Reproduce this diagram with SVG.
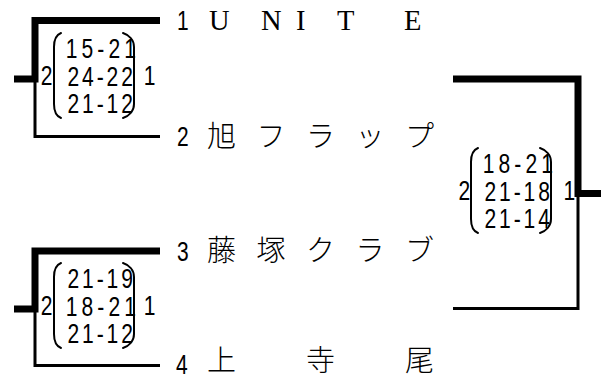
<svg xmlns="http://www.w3.org/2000/svg" width="601" height="379" viewBox="0 0 601 379">
<style>
.thick{stroke:#000;stroke-width:7;fill:none}
.thin{stroke:#000;stroke-width:3;fill:none}
.paren{stroke:#000;stroke-width:2;fill:none;stroke-linecap:round}
.num{font-family:"Liberation Sans",Arial,sans-serif;font-size:28px;fill:#000}
.score{font-family:"Liberation Sans",Arial,sans-serif;font-size:27px;fill:#000}
.en{font-family:"Liberation Serif","Times New Roman",serif;font-size:28.5px;fill:#000}
.jp{font-family:"Noto Sans CJK JP",sans-serif;font-size:29px;font-weight:300;fill:#000}
</style>
<rect width="601" height="379" fill="#fff"/>
<g id="connectors">
<path class="thick" d="M160,20.5 H35 V82.5 M14,79 H38.5"/>
<path class="thin" d="M35,82 V136.5 H160"/>
<path class="thick" d="M160,251 H35 V312.5 M14,309 H38.5"/>
<path class="thin" d="M35,312 V365.5 H160"/>
<path class="thick" d="M453,79 H578 V197 M574.5,193.5 H601"/>
<path class="thin" d="M578,196 V308.5 H453"/>
</g>
<g id="team1">
<text class="num" transform="translate(177,29.5) scale(.75,1)">1</text>
<text class="en" x="209 261 296 337 404" y="29.5">UNITE</text>
</g>
<g id="team2">
<text class="num" transform="translate(177,146) scale(.75,1)">2</text>
<text class="jp" x="207 256.5 306 355.5 405" y="146.5">旭フラップ</text>
</g>
<g id="team3">
<text class="num" transform="translate(177,260.5) scale(.75,1)">3</text>
<text class="jp" x="207 256.5 306 355.5 405" y="261">藤塚クラブ</text>
</g>
<g id="team4">
<text class="num" transform="translate(176,373.5) scale(.75,1)">4</text>
<text class="jp" x="207 306 405" y="370.5">上寺尾</text>
</g>
<g id="match1">
<text class="score" transform="translate(40.8,85) scale(.78,1)">2</text>
<path class="paren" d="M61,33 C56,35 54,40 54,47 V104 C54,111 56,116 61,118"/>
<text class="score" transform="translate(65.7,58) scale(.78,1)" textLength="90" lengthAdjust="spacing">15-21</text>
<text class="score" transform="translate(67.4,85.5) scale(.78,1)" textLength="84" lengthAdjust="spacing">24-22</text>
<text class="score" transform="translate(67.4,113) scale(.78,1)" textLength="84" lengthAdjust="spacing">21-12</text>
<path class="paren" d="M123,33 C129,35 134,40 134,47 V104 C134,111 129,116 123,118"/>
<text class="score" transform="translate(143.7,85) scale(.78,1)">1</text>
</g>
<g id="match2" transform="translate(0,230)">
<text class="score" transform="translate(40.8,85) scale(.78,1)">2</text>
<path class="paren" d="M61,33 C56,35 54,40 54,47 V104 C54,111 56,116 61,118"/>
<text class="score" transform="translate(67.4,58) scale(.78,1)" textLength="84" lengthAdjust="spacing">21-19</text>
<text class="score" transform="translate(65.7,85.5) scale(.78,1)" textLength="90" lengthAdjust="spacing">18-21</text>
<text class="score" transform="translate(67.4,113) scale(.78,1)" textLength="84" lengthAdjust="spacing">21-12</text>
<path class="paren" d="M123,33 C129,35 134,40 134,47 V104 C134,111 129,116 123,118"/>
<text class="score" transform="translate(143.7,85) scale(.78,1)">1</text>
</g>
<g id="final" transform="translate(417,115)">
<text class="score" transform="translate(41.5,85) scale(.78,1)">2</text>
<path class="paren" d="M61,33 C56,35 54,40 54,47 V104 C54,111 56,116 61,118"/>
<text class="score" transform="translate(65.7,58) scale(.78,1)" textLength="90" lengthAdjust="spacing">18-21</text>
<text class="score" transform="translate(67.4,85.5) scale(.78,1)" textLength="84" lengthAdjust="spacing">21-18</text>
<text class="score" transform="translate(67.4,113) scale(.78,1)" textLength="84" lengthAdjust="spacing">21-14</text>
<path class="paren" d="M123,33 C129,35 134,40 134,47 V104 C134,111 129,116 123,118"/>
<text class="score" transform="translate(146.5,85) scale(.78,1)">1</text>
</g>
</svg>
